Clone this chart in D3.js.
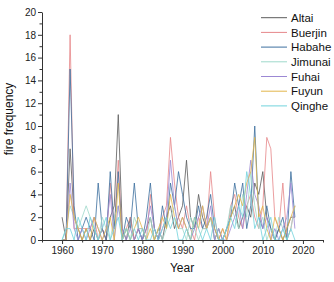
<!DOCTYPE html>
<html><head><meta charset="utf-8">
<script src="https://cdn.jsdelivr.net/npm/d3@7"></script>
<style>body{margin:0;background:#fff}svg{display:block}text{font-family:Arial,"Liberation Sans",sans-serif}</style>
</head><body><svg id="c" width="334" height="282"></svg>
<script>
const years = d3.range(1960, 2019);
const seriesNames = ["Altai","Buerjin","Habahe","Jimunai","Fuhai","Fuyun","Qinghe"];
const colors = ["#5c5c5c","#e6878a","#3d6f9f","#9fd9cb","#9c88d4","#e3b64a","#72d3dc"];
const altai   = [2,0,8,2,1,0,1,0,1,0, 1,0,2,3,11,1,0,2,0,1, 0,1,2,0,1,0,2,3,1,2, 3,7,2,1,4,2,1,2,0,1, 0,1,2,3,1,2,3,2,5,4, 6,2,1,0,1,0,1,2,2];
const buerjin = [0,0,18,1,1,1,1,1,2,0, 1,0,5,1,7,0,1,2,0,1, 1,0,4,1,0,2,3,9,5,2, 1,3,1,0,2,1,1,6,2,0, 1,0,3,4,2,1,3,4,2,1, 3,9,8,2,1,5,0,1,3];
const habahe  = [0,0,15,3,0,1,2,1,0,5, 1,0,6,1,6,0,2,1,5,1, 0,2,5,1,0,3,1,5,3,6, 4,2,1,1,3,1,2,4,1,0, 0,1,2,5,3,5,1,3,10,2, 1,3,1,0,1,2,0,6,2];
const jimunai = [0,1,3,2,1,2,3,2,1,0, 2,1,0,2,3,0,1,0,2,1, 1,0,2,0,1,0,1,2,3,1, 1,0,2,1,0,1,1,2,0,1, 0,1,3,2,1,4,2,6,3,1, 2,0,1,0,2,1,0,1,3];
const fuhai   = [0,0,5,1,0,1,0,1,2,1, 0,1,4,0,3,1,0,1,0,1, 0,1,3,1,0,1,2,7,3,1, 2,1,0,1,2,3,1,3,0,1, 0,0,1,2,3,1,4,7,4,3, 1,2,0,1,0,1,2,5,1];
const fuyun   = [0,0,4,2,1,0,1,0,2,1, 0,1,2,0,5,0,1,0,1,2, 1,0,1,0,1,2,1,4,2,1, 2,1,0,2,1,3,1,2,1,0, 1,0,2,3,4,3,5,6,9,2, 3,1,0,2,1,0,1,2,3];
const qinghe  = [0,1,1,0,2,1,0,2,1,0, 1,2,0,1,2,0,1,0,1,0, 1,0,0,1,0,1,2,1,2,0, 0,1,0,2,1,0,1,0,2,0, 0,1,2,1,3,2,6,4,1,2, 0,1,2,0,0,1,0,1,0];
const allSeries = [altai,buerjin,habahe,jimunai,fuhai,fuyun,qinghe];
const xTicks = [1960,1970,1980,1990,2000,2010,2020];
const yTicks = d3.range(0, 21, 2);

const svg = d3.select("#c");
const x = d3.scaleLinear().domain([1955, 2025]).range([42, 323]);
const y = d3.scaleLinear().domain([0, 20]).range([240, 12]);

const line = d3.line().x((d,i)=>x(years[i])).y(d=>y(d));
svg.append("g").selectAll("path").data(allSeries).join("path")
  .attr("d", d=>line(d)).attr("fill","none")
  .attr("stroke",(d,i)=>colors[i]).attr("stroke-width",0.9).attr("stroke-opacity",0.9);

const axCol = "#333";
// x axis
const gx = svg.append("g").attr("transform","translate(0,240)");
gx.call(d3.axisBottom(x).tickValues(xTicks).tickFormat(d3.format("d")).tickSize(4).tickSizeOuter(0));
gx.append("g").call(d3.axisBottom(x).tickValues(d3.range(1955,2026,10)).tickFormat("").tickSize(2.5).tickSizeOuter(0))
  .select(".domain").remove();
// y axis
const gy = svg.append("g").attr("transform","translate(42,0)");
gy.call(d3.axisLeft(y).tickValues(yTicks).tickSize(4).tickSizeOuter(0));
gy.append("g").call(d3.axisLeft(y).tickValues(d3.range(1,20,2)).tickFormat("").tickSize(2.5).tickSizeOuter(0))
  .select(".domain").remove();
svg.selectAll(".domain, .tick line").attr("stroke",axCol).attr("stroke-width",1);
svg.selectAll(".tick text").attr("fill","#222").style("font-size","10px").style("font-family","Arial, 'Liberation Sans', sans-serif");
gx.selectAll(".tick text").attr("dy","0.71em").attr("y",7);
gy.selectAll(".tick text").attr("x",-6);

svg.append("text").attr("x",182).attr("y",272).attr("text-anchor","middle").style("font-size","12px").attr("fill","#111").text("Year");
svg.append("text").attr("transform","translate(13,119) rotate(-90)").attr("text-anchor","middle").style("font-size","12px").attr("fill","#111").text("fire frequency");

// legend
const lg = svg.append("g");
seriesNames.forEach((n,i)=>{
  const cy = 17.7 + i*14.7;
  lg.append("line").attr("x1",261).attr("x2",287).attr("y1",cy).attr("y2",cy).attr("stroke",colors[i]).attr("stroke-width",1);
  lg.append("text").attr("x",291).attr("y",cy).attr("dy","0.36em").style("font-size","11.5px").attr("fill","#111").text(n);
});
</script></body></html>
